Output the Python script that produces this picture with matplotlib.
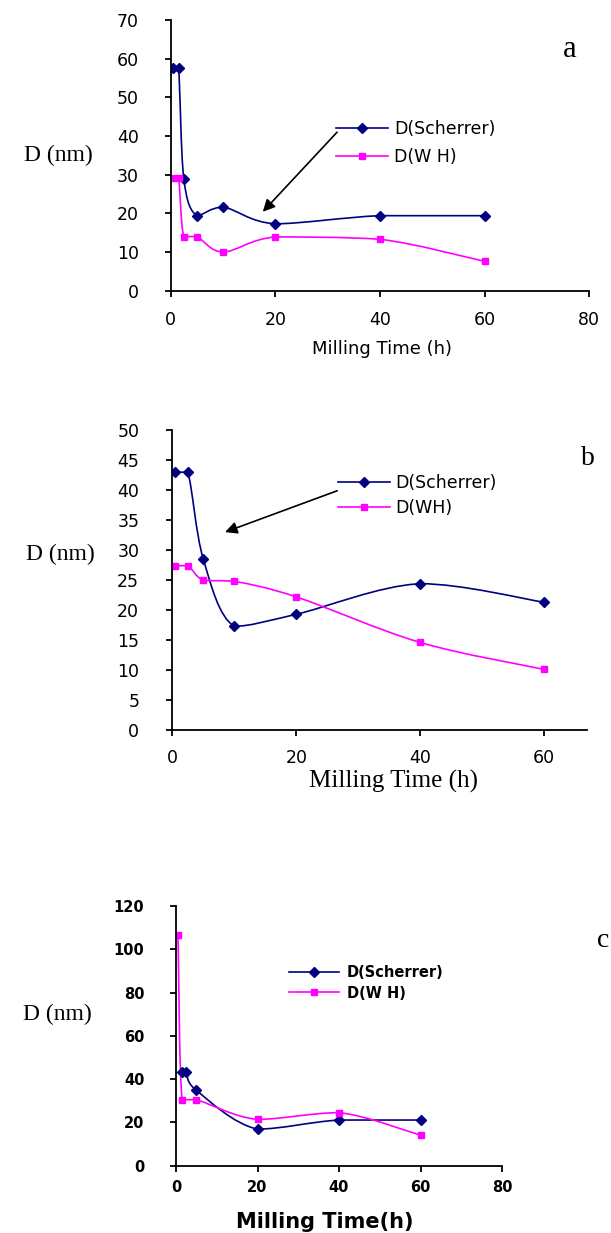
import matplotlib
matplotlib.use("Agg")
import numpy as np
import matplotlib.pyplot as plt
from matplotlib.path import Path
from matplotlib.patches import PathPatch
from matplotlib.lines import Line2D
from matplotlib.font_manager import FontProperties

# panel a
time_a = [0.5, 1.5, 2.5, 5, 10, 20, 40, 60]
d_sch_a = [57.5, 57.5, 29, 19.4, 21.6, 17.3, 19.4, 19.4]
d_wh_a = [29.2, 29.2, 14, 14, 10, 13.9, 13.3, 7.6]

# panel b
time_b = [0.5, 2.5, 5, 10, 20, 40, 60]
d_sch_b = [43, 43, 28.5, 17.3, 19.3, 24.4, 21.3]
d_wh_b = [27.4, 27.4, 25, 24.8, 22.2, 14.6, 10.1]

# panel c
time_sch_c = [1.5, 2.5, 5, 20, 40, 60]
d_sch_c = [43.3, 43.3, 34.8, 16.9, 21.1, 21.1]
time_wh_c = [0.5, 1.5, 5, 20, 40, 60]
d_wh_c = [106.5, 30.5, 30.5, 21.4, 24.5, 14.1]

NAVY = "#000080"
MAGENTA = "#ff00ff"
W, H = 611, 1233


def smooth_path(x, y):
    """Smoothed line like a spreadsheet chart: cubic Bezier through the points,
    control points kept inside each segment's y range so steps don't overshoot."""
    p = np.column_stack([x, y]).astype(float)
    ext = np.vstack([p[0], p, p[-1]])
    verts = [p[0]]
    codes = [Path.MOVETO]
    for i in range(len(p) - 1):
        p0, p1, p2, p3 = ext[i], ext[i + 1], ext[i + 2], ext[i + 3]
        c1 = p1 + (p2 - p0) / 6.0
        c2 = p2 - (p3 - p1) / 6.0
        lo, hi = min(p1[1], p2[1]), max(p1[1], p2[1])
        c1[1] = np.clip(c1[1], lo, hi)
        c2[1] = np.clip(c2[1], lo, hi)
        verts += [c1, c2, p2]
        codes += [Path.CURVE4] * 3
    return Path(verts, codes)


def draw_series(ax, x, y, color, marker, ms):
    ax.add_patch(PathPatch(smooth_path(x, y), fill=False, edgecolor=color, lw=1.2))
    ax.plot(x, y, ls="none", marker=marker, ms=ms, color=color, mec=color)


def style_axes(ax, font, xpad, ypad):
    for s in ["top", "right"]:
        ax.spines[s].set_visible(False)
    for s in ["left", "bottom"]:
        ax.spines[s].set_linewidth(1.3)
    ax.tick_params(axis="both", direction="out", length=4.3, width=1.3, labelcolor="black")
    ax.tick_params(axis="x", pad=xpad)
    ax.tick_params(axis="y", pad=ypad)
    for lab in ax.get_xticklabels() + ax.get_yticklabels():
        lab.set_fontproperties(font)


def legend_handles(ms_d):
    return [Line2D([], [], color=NAVY, lw=1.2, marker="D", ms=ms_d),
            Line2D([], [], color=MAGENTA, lw=1.2, marker="s", ms=5)]


def px(x, y):
    return x / W, 1 - y / H


fig = plt.figure(figsize=(W / 100, H / 100), dpi=100)

tick_font = {"family": "DejaVu Sans", "size": 12.5}
serif = "Liberation Serif"
arrow_props = dict(arrowstyle="-|>", color="black", lw=1.2,
                   mutation_scale=18, shrinkA=0, shrinkB=0)

# ---------- panel a ----------
ax_a = fig.add_axes([170.7 / W, 1 - 290.7 / H, 418.6 / W, 270.7 / H])
draw_series(ax_a, time_a, d_sch_a, NAVY, "D", 5)
draw_series(ax_a, time_a, d_wh_a, MAGENTA, "s", 5)
ax_a.set_xlim(0, 80)
ax_a.set_ylim(0, 70)
ax_a.set_xticks([0, 20, 40, 60, 80])
ax_a.set_yticks(range(0, 71, 10))
style_axes(ax_a, FontProperties(**tick_font), 10.5, 18.5)
ax_a.legend(legend_handles(5), ["D(Scherrer)", "D(W H)"], loc="center left",
            bbox_to_anchor=(0.395, 0.5456), frameon=False, borderpad=0,
            borderaxespad=0, handlelength=3.0, handletextpad=0.36, labelspacing=0.55,
            prop={"family": "DejaVu Sans", "size": 12.5})
ax_a.annotate("", xy=(17.6, 20.4), xytext=(31.8, 41.0), arrowprops=arrow_props)

# ---------- panel b ----------
ax_b = fig.add_axes([172.3 / W, 1 - 730 / H, 414.7 / W, 299.8 / H])
draw_series(ax_b, time_b, d_sch_b, NAVY, "D", 5)
draw_series(ax_b, time_b, d_wh_b, MAGENTA, "s", 5)
ax_b.set_xlim(0, 66.9)
ax_b.set_ylim(0, 50)
ax_b.set_xticks([0, 20, 40, 60])
ax_b.set_yticks(range(0, 51, 5))
style_axes(ax_b, FontProperties(**tick_font), 9.5, 19.5)
ax_b.legend(legend_handles(5), ["D(Scherrer)", "D(WH)"], loc="center left",
            bbox_to_anchor=(0.400, 0.782), frameon=False, borderpad=0,
            borderaxespad=0, handlelength=3.0, handletextpad=0.3, labelspacing=0.4,
            prop={"family": "DejaVu Sans", "size": 12.5})
ax_b.annotate("", xy=(8.5, 33.0), xytext=(26.6, 39.9), arrowprops=arrow_props)

# ---------- panel c ----------
ax_c = fig.add_axes([176 / W, 1 - 1165.7 / H, 326 / W, 259.7 / H])
draw_series(ax_c, time_sch_c, d_sch_c, NAVY, "D", 5.5)
draw_series(ax_c, time_wh_c, d_wh_c, MAGENTA, "s", 5)
ax_c.set_xlim(0, 80)
ax_c.set_ylim(0, 120)
ax_c.set_xticks([0, 20, 40, 60, 80])
ax_c.set_yticks(range(0, 121, 20))
style_axes(ax_c, FontProperties(family="DejaVu Sans", weight="bold", size=10.5), 6, 18.5)
ax_c.legend(legend_handles(5.5), ["D(Scherrer)", "D(W H)"], loc="center left",
            bbox_to_anchor=(0.347, 0.705), frameon=False, borderpad=0,
            borderaxespad=0, handlelength=3.4, handletextpad=0.55, labelspacing=0.4,
            prop={"family": "DejaVu Sans", "weight": "bold", "size": 10.5})

# ---------- labels ----------
for (x, y) in [(58, 160.7), (60, 560), (57, 1020)]:
    fig.text(*px(x, y), "D (nm)", ha="center", va="baseline", family=serif, size=17)

fig.text(*px(382, 349), "Milling Time (h)", ha="center", va="center",
         family="DejaVu Sans", size=13)
fig.text(*px(393, 788), "Milling Time (h)", ha="center", va="baseline",
         family=serif, size=18)
fig.text(*px(325, 1228), "Milling Time(h)", ha="center", va="baseline",
         family="DejaVu Sans", weight="bold", size=15)

fig.text(*px(570, 57), "a", ha="center", va="baseline", family=serif, size=22)
fig.text(*px(588, 465), "b", ha="center", va="baseline", family=serif, size=20)
fig.text(*px(603, 947), "c", ha="center", va="baseline", family=serif, size=20)

fig.savefig("out.png", dpi=100)
